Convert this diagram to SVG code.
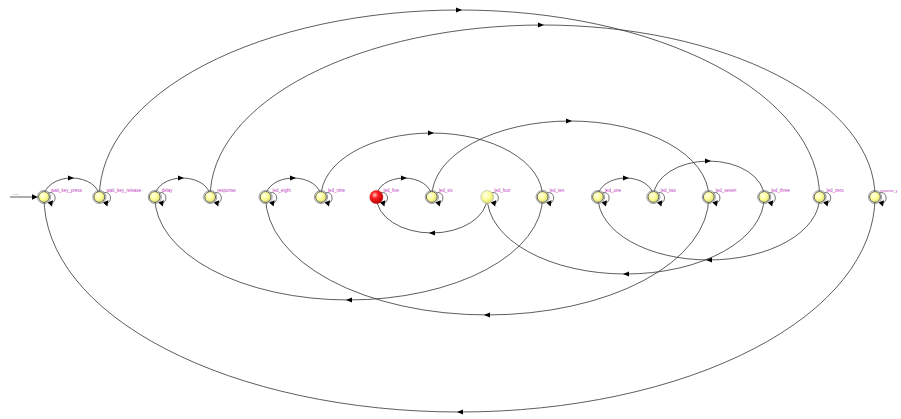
<svg xmlns="http://www.w3.org/2000/svg" xmlns:xlink="http://www.w3.org/1999/xlink" width="901" height="419" viewBox="0 0 901 419">
<style>
.e{fill:none;stroke:#333;stroke-width:0.8}
.lbl{font-family:"Liberation Sans",Arial,sans-serif;font-size:4.5px;fill:#c03cc0}
.ring{fill:none;stroke:#777;stroke-width:0.7}
.st{stroke:#444;stroke-width:0.8}
</style>
<defs>
<radialGradient id="gy" cx="0.38" cy="0.35" r="0.7">
<stop offset="0" stop-color="#ffffee"/>
<stop offset="0.5" stop-color="#ffff99"/>
<stop offset="1" stop-color="#d8d870"/>
</radialGradient>
<radialGradient id="gr" cx="0.38" cy="0.35" r="0.7">
<stop offset="0" stop-color="#ffcccc"/>
<stop offset="0.35" stop-color="#ff2020"/>
<stop offset="1" stop-color="#b00000"/>
</radialGradient>
<path id="ar" d="M-3,-2.5 L3,0 L-3,2.5 Z" fill="#000"/>
<path id="al" d="M3,-2.5 L-3,0 L3,2.5 Z" fill="#000"/>
<g id="loop">
<path d="M4,-4 C12,-7 14,6 6,6.5" fill="none" stroke="#333" stroke-width="0.7"/>
<path d="M3.5,5.5 L9,3.2 L8,9.5 Z" fill="#000"/>
</g>
</defs>
<rect width="901" height="419" fill="#fff"/>
<g id="connectors">
<line x1="10" y1="197" x2="34" y2="197" stroke="#333" stroke-width="0.8"/>
<path d="M38,197 L32,194.3 L32,199.7 Z" fill="#000"/>
<text x="13" y="195" style="font-family:'Liberation Sans',Arial,sans-serif;font-size:2.5px;fill:#999">reset</text>
<path class="e" d="M44,197 A27.7,19 0 0 1 99.4,197"/><use href="#ar" x="71" y="178"/>
<path class="e" d="M154.8,197 A27.7,19 0 0 1 210.2,197"/><use href="#ar" x="181" y="178"/>
<path class="e" d="M265.6,197 A27.7,19 0 0 1 321,197"/><use href="#ar" x="293" y="178"/>
<path class="e" d="M376.4,197 A27.7,19 0 0 1 431.8,197"/><use href="#ar" x="404" y="178"/>
<path class="e" d="M598,197 A27.7,19 0 0 1 653.4,197"/><use href="#ar" x="626" y="178"/>
<path class="e" d="M321,197 A110.8,64 0 0 1 542.6,197"/><use href="#ar" x="431" y="133"/>
<path class="e" d="M431.8,197 A138.5,76 0 0 1 708.8,197"/><use href="#ar" x="569" y="121"/>
<path class="e" d="M653.4,197 A55.4,36 0 0 1 764.2,197"/><use href="#ar" x="708" y="161"/>
<path class="e" d="M99.4,197 A360.1,187 0 0 1 819.6,197"/><use href="#ar" x="459" y="10"/>
<path class="e" d="M210.2,197 A332.4,172 0 0 1 875,197"/><use href="#ar" x="541" y="25"/>
<path class="e" d="M487.2,197 A55.4,36 0 0 1 376.4,197"/><use href="#al" x="432" y="233"/>
<path class="e" d="M819.6,197 A110.8,63 0 0 1 598,197"/><use href="#al" x="709" y="260"/>
<path class="e" d="M764.2,197 A138.5,77 0 0 1 487.2,197"/><use href="#al" x="626" y="274"/>
<path class="e" d="M542.6,197 A193.9,103 0 0 1 154.8,197"/><use href="#al" x="349" y="300"/>
<path class="e" d="M708.8,197 A221.6,118 0 0 1 265.6,197"/><use href="#al" x="487" y="315"/>
<path class="e" d="M875,197 A415.5,215 0 0 1 44,197"/><use href="#al" x="460" y="412"/>
</g>
<g id="wait_key_press" transform="translate(44,197)"><use href="#loop"/><circle class="ring" r="6.6"/><circle class="st" r="5.4" fill="url(#gy)"/><text class="lbl" x="7" y="-5">wait_key_press</text></g>
<g id="wait_key_release" transform="translate(99.4,197)"><use href="#loop"/><circle class="ring" r="6.6"/><circle class="st" r="5.4" fill="url(#gy)"/><text class="lbl" x="7" y="-5">wait_key_release</text></g>
<g id="delay" transform="translate(154.8,197)"><use href="#loop"/><circle class="ring" r="6.6"/><circle class="st" r="5.4" fill="url(#gy)"/><text class="lbl" x="7" y="-5">delay</text></g>
<g id="response" transform="translate(210.2,197)"><use href="#loop"/><circle class="ring" r="6.6"/><circle class="st" r="5.4" fill="url(#gy)"/><text class="lbl" x="7" y="-5">response</text></g>
<g id="led_eight" transform="translate(265.6,197)"><use href="#loop"/><circle class="ring" r="6.6"/><circle class="st" r="5.4" fill="url(#gy)"/><text class="lbl" x="7" y="-5">led_eight</text></g>
<g id="led_nine" transform="translate(321,197)"><use href="#loop"/><circle class="ring" r="6.6"/><circle class="st" r="5.4" fill="url(#gy)"/><text class="lbl" x="7" y="-5">led_nine</text></g>
<g id="led_five" transform="translate(376.4,197)"><use href="#loop"/><circle r="6.6" fill="url(#gr)" stroke="#c00000" stroke-width="0.4"/><text class="lbl" x="7" y="-5">led_five</text></g>
<g id="led_six" transform="translate(431.8,197)"><use href="#loop"/><circle class="ring" r="6.6"/><circle class="st" r="5.4" fill="url(#gy)"/><text class="lbl" x="7" y="-5">led_six</text></g>
<g id="led_four" transform="translate(487.2,197)"><use href="#loop"/><circle r="6.4" fill="url(#gy)" stroke="#999" stroke-width="0.5"/><text class="lbl" x="7" y="-5">led_four</text></g>
<g id="led_ten" transform="translate(542.6,197)"><use href="#loop"/><circle class="ring" r="6.6"/><circle class="st" r="5.4" fill="url(#gy)"/><text class="lbl" x="7" y="-5">led_ten</text></g>
<g id="led_one" transform="translate(598,197)"><use href="#loop"/><circle class="ring" r="6.6"/><circle class="st" r="5.4" fill="url(#gy)"/><text class="lbl" x="7" y="-5">led_one</text></g>
<g id="led_two" transform="translate(653.4,197)"><use href="#loop"/><circle class="ring" r="6.6"/><circle class="st" r="5.4" fill="url(#gy)"/><text class="lbl" x="7" y="-5">led_two</text></g>
<g id="led_seven" transform="translate(708.8,197)"><use href="#loop"/><circle class="ring" r="6.6"/><circle class="st" r="5.4" fill="url(#gy)"/><text class="lbl" x="7" y="-5">led_seven</text></g>
<g id="led_three" transform="translate(764.2,197)"><use href="#loop"/><circle class="ring" r="6.6"/><circle class="st" r="5.4" fill="url(#gy)"/><text class="lbl" x="7" y="-5">led_three</text></g>
<g id="led_zero" transform="translate(819.6,197)"><use href="#loop"/><circle class="ring" r="6.6"/><circle class="st" r="5.4" fill="url(#gy)"/><text class="lbl" x="7" y="-5">led_zero</text></g>
<g id="response_y" transform="translate(875,197)"><use href="#loop"/><circle class="ring" r="6.6"/><circle class="st" r="5.4" fill="url(#gy)"/><text class="lbl" x="5" y="-5" style="font-size:3.4px">response_y</text></g>
</svg>
